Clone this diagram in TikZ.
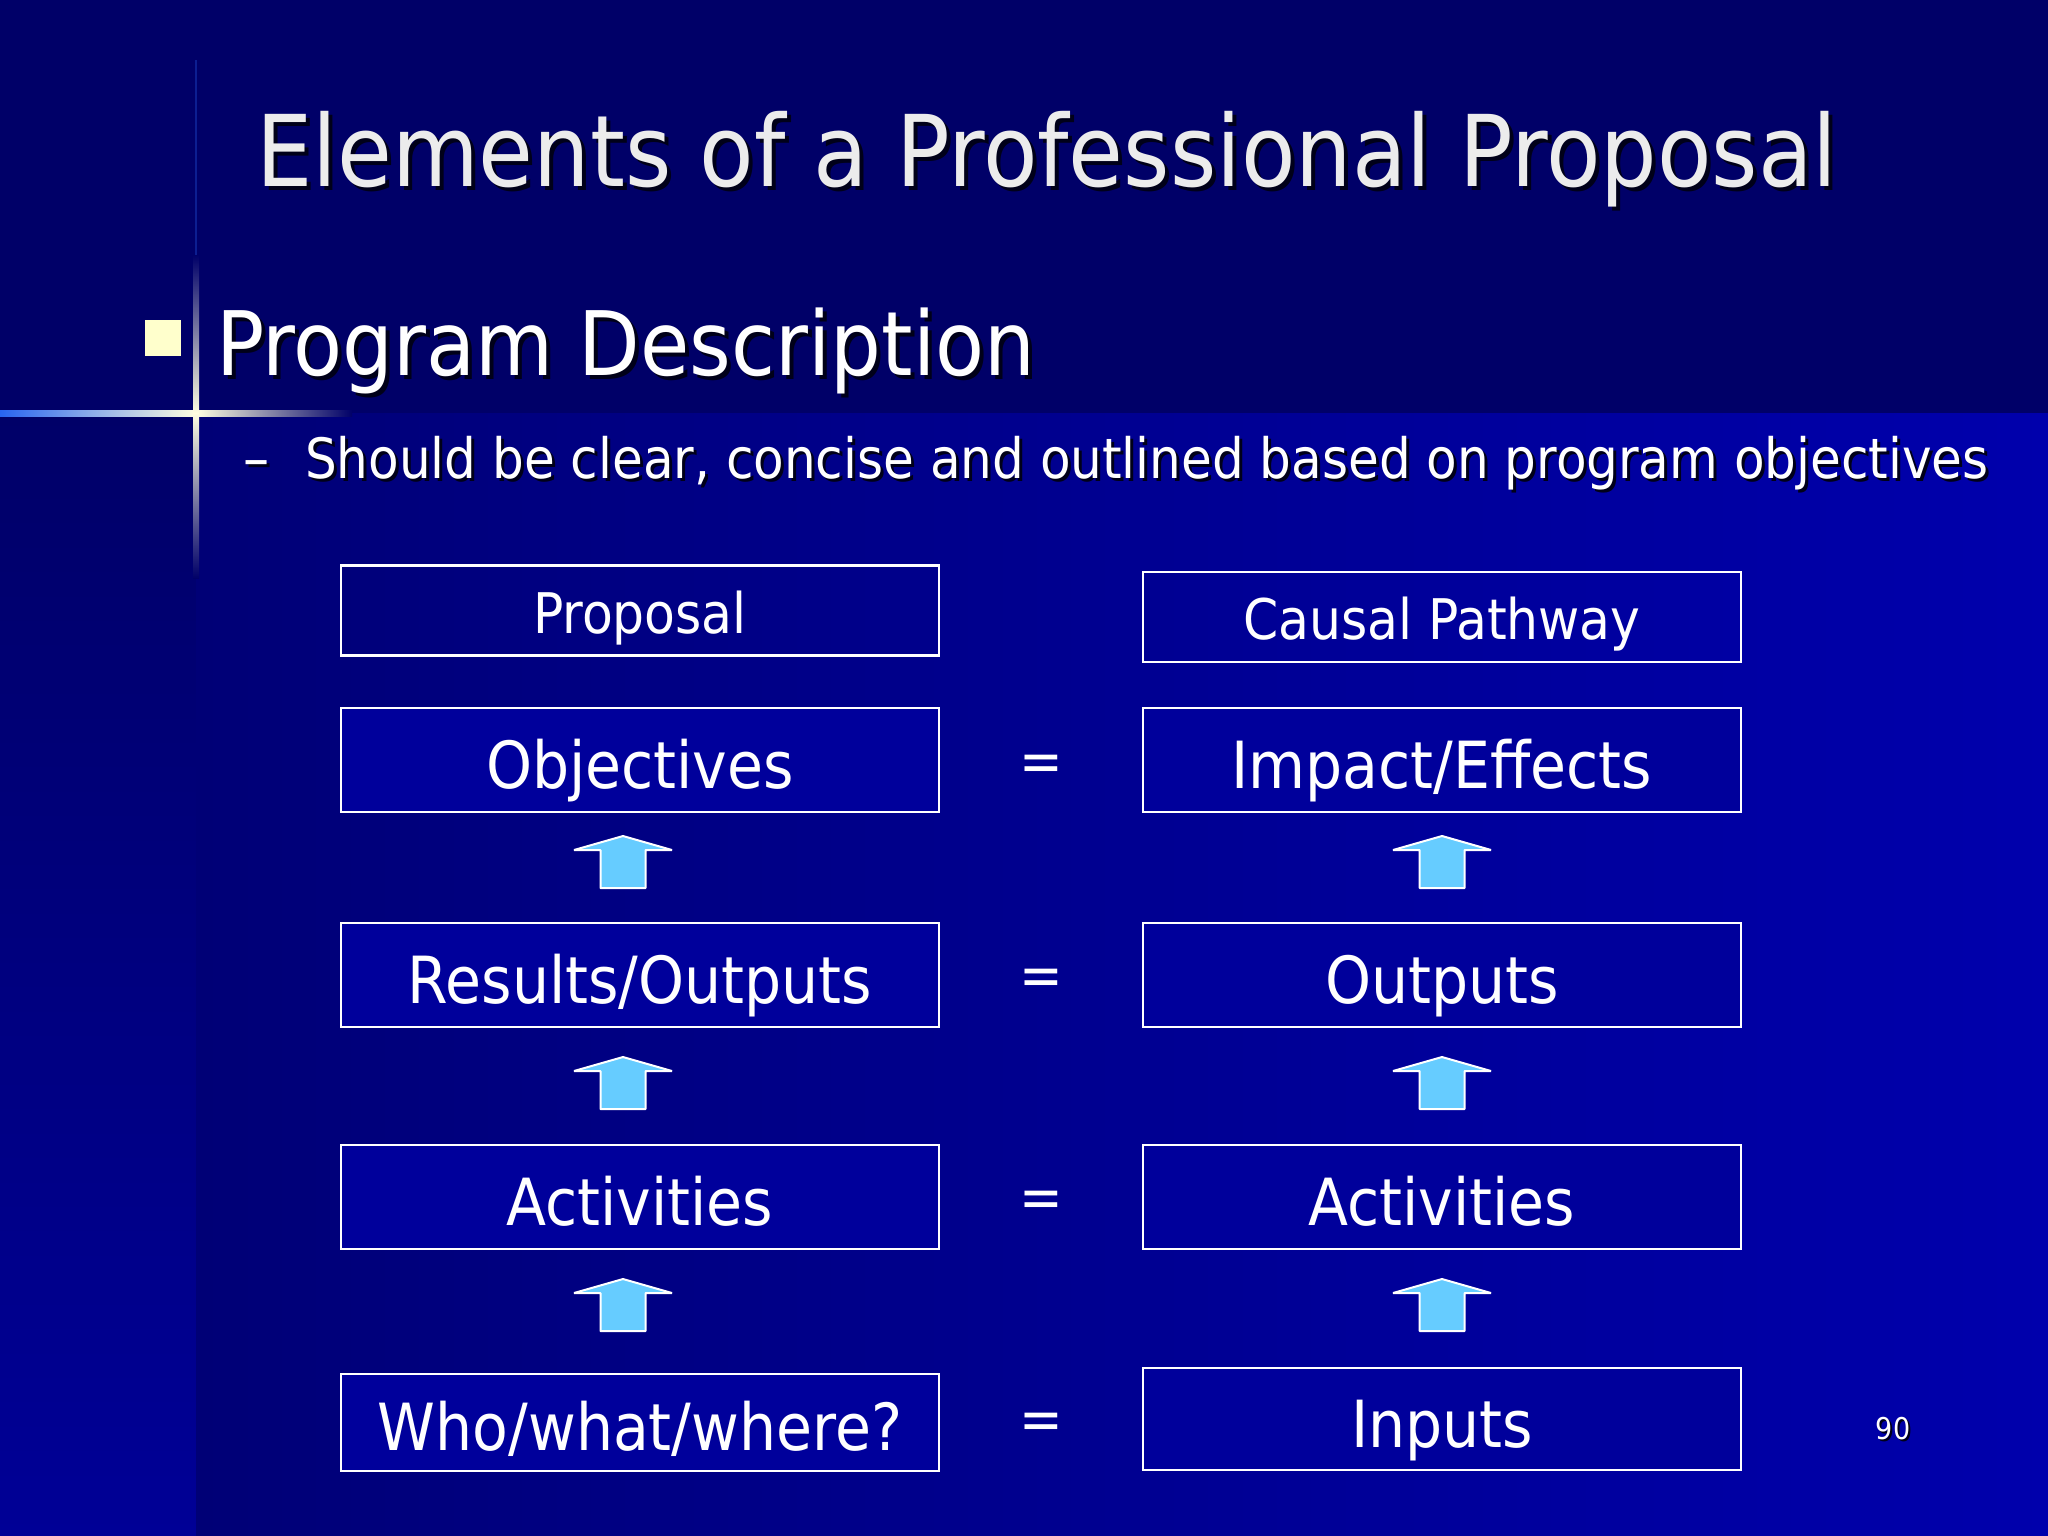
\documentclass[tikz,border=0pt]{standalone}
\usepackage{fontspec}
\setmainfont{DejaVu Sans Condensed}
\usetikzlibrary{calc}
\definecolor{navy}{RGB}{0,0,104}
\definecolor{panelR}{RGB}{0,0,172}
\definecolor{panelL}{RGB}{0,0,118}
\definecolor{stripB}{RGB}{0,0,150}
\definecolor{boxfill}{RGB}{0,0,155}
\definecolor{arrfill}{RGB}{102,204,255}
\definecolor{titlegray}{RGB}{236,236,236}
\definecolor{glowblue}{RGB}{40,100,240}
\definecolor{glowcore}{RGB}{255,255,225}
\definecolor{shadowc}{RGB}{0,0,25}
\definecolor{bulletc}{RGB}{255,255,204}
\newcommand{\fs}[1]{\fontsize{#1}{#1}\selectfont}
\newcommand{\blockarrow}[2]{%
  \draw[uparr,shift={(#1,#2)}] (0,0) -- (49,14) -- (22.5,14) -- (22.5,52) -- (-22.5,52) -- (-22.5,14) -- (-49,14) -- cycle;}
\begin{document}
\begin{tikzpicture}[x=1pt,y=-1pt,
  hdr/.style={draw=white,line width=2.5pt,minimum width=598pt,minimum height=90pt,inner sep=0pt,text=white,font=\fs{56},text height=45pt,text depth=0pt},
  item/.style={hdr,fill=boxfill,minimum height=104pt,font=\fs{65},text height=56pt},
  eqsign/.style={text=white,font=\fs{58},inner sep=0pt},
  uparr/.style={fill=arrfill,draw=white,line width=2pt,line join=bevel},
  plain/.style={inner sep=0pt},
]
\useasboundingbox (0,0) rectangle (2048,1536);
% background
\fill[navy] (0,0) rectangle (2048,1536);
\shade[top color=navy,bottom color=stripB] (0,413) rectangle (196,1536);
\shade[left color=panelL,right color=panelR] (196,413) rectangle (2048,1536);
% glow lines
\draw[glowblue!30!navy,line width=1.2pt] (196,60) -- (196,413);
\shade[left color=glowblue,middle color=glowblue!60!white,right color=glowcore] (0,410) rectangle (196,416);
\shade[left color=glowcore,middle color=glowblue,right color=navy] (196,410) rectangle (352,416);
\shade[top color=navy,middle color=glowblue,bottom color=glowcore] (193,255) rectangle (199,413);
\shade[top color=glowcore,middle color=glowblue,bottom color=navy] (193,413) rectangle (199,578);
% title
\node[plain,anchor=base,text=shadowc,font=\fs{99}] (titleS) at (1051,190) {Elements of a Professional Proposal};
\node[plain,anchor=base,text=titlegray,font=\fs{99}] (title) at (1047,186) {Elements of a Professional Proposal};
% bullet
\node[plain,fill=bulletc,minimum size=36pt] (bullet) at (163,338) {};
\node[plain,anchor=base west,text=shadowc,font=\fs{89}] (progS) at (220,379) {Program Description};
\node[plain,anchor=base west,text=white,font=\fs{89}] (prog) at (216,375) {Program Description};
\node[plain,anchor=base,text=shadowc,font=\fs{58}] (dashS) at (260,481) {–};
\node[plain,anchor=base,text=white,font=\fs{58}] (dash) at (257,478) {–};
\node[plain,anchor=base west,text=shadowc,font=\fs{55.6}] (subS) at (308,481) {Should be clear, concise and outlined based on program objectives};
\node[plain,anchor=base west,text=white,font=\fs{55.6}] (sub) at (305,478) {Should be clear, concise and outlined based on program objectives};
% boxes
\node[hdr] (prop) at (640,610.5) {Proposal};
\node[hdr] (causal) at (1442,617) {Causal Pathway};
\node[item] (obj) at (640,760) {Objectives};
\node[item] (imp) at (1442,760) {Impact/Effects};
\node[item] (res) at (640,975) {Results/Outputs};
\node[item] (out) at (1442,975) {Outputs};
\node[item] (actL) at (640,1197) {Activities};
\node[item] (actR) at (1442,1197) {Activities};
\node[item,minimum height=97pt] (who) at (640,1422.5) {Who/what/where?};
\node[item,minimum height=102pt] (inp) at (1442,1419) {Inputs};
% equals
\node[eqsign] (eq1) at (1041,768) {=};
\node[eqsign] (eq2) at (1041,982) {=};
\node[eqsign] (eq3) at (1041,1204) {=};
\node[eqsign] (eq4) at (1041,1426) {=};
% arrows
\blockarrow{623}{836}
\blockarrow{623}{1057}
\blockarrow{623}{1279}
\blockarrow{1442}{836}
\blockarrow{1442}{1057}
\blockarrow{1442}{1279}
% page number
\node[plain,anchor=base,text=shadowc,font=\fs{30}] (pgS) at (1895,1441) {90};
\node[plain,anchor=base,text=white,font=\fs{30}] (pg) at (1893,1439) {90};
\end{tikzpicture}
\end{document}
